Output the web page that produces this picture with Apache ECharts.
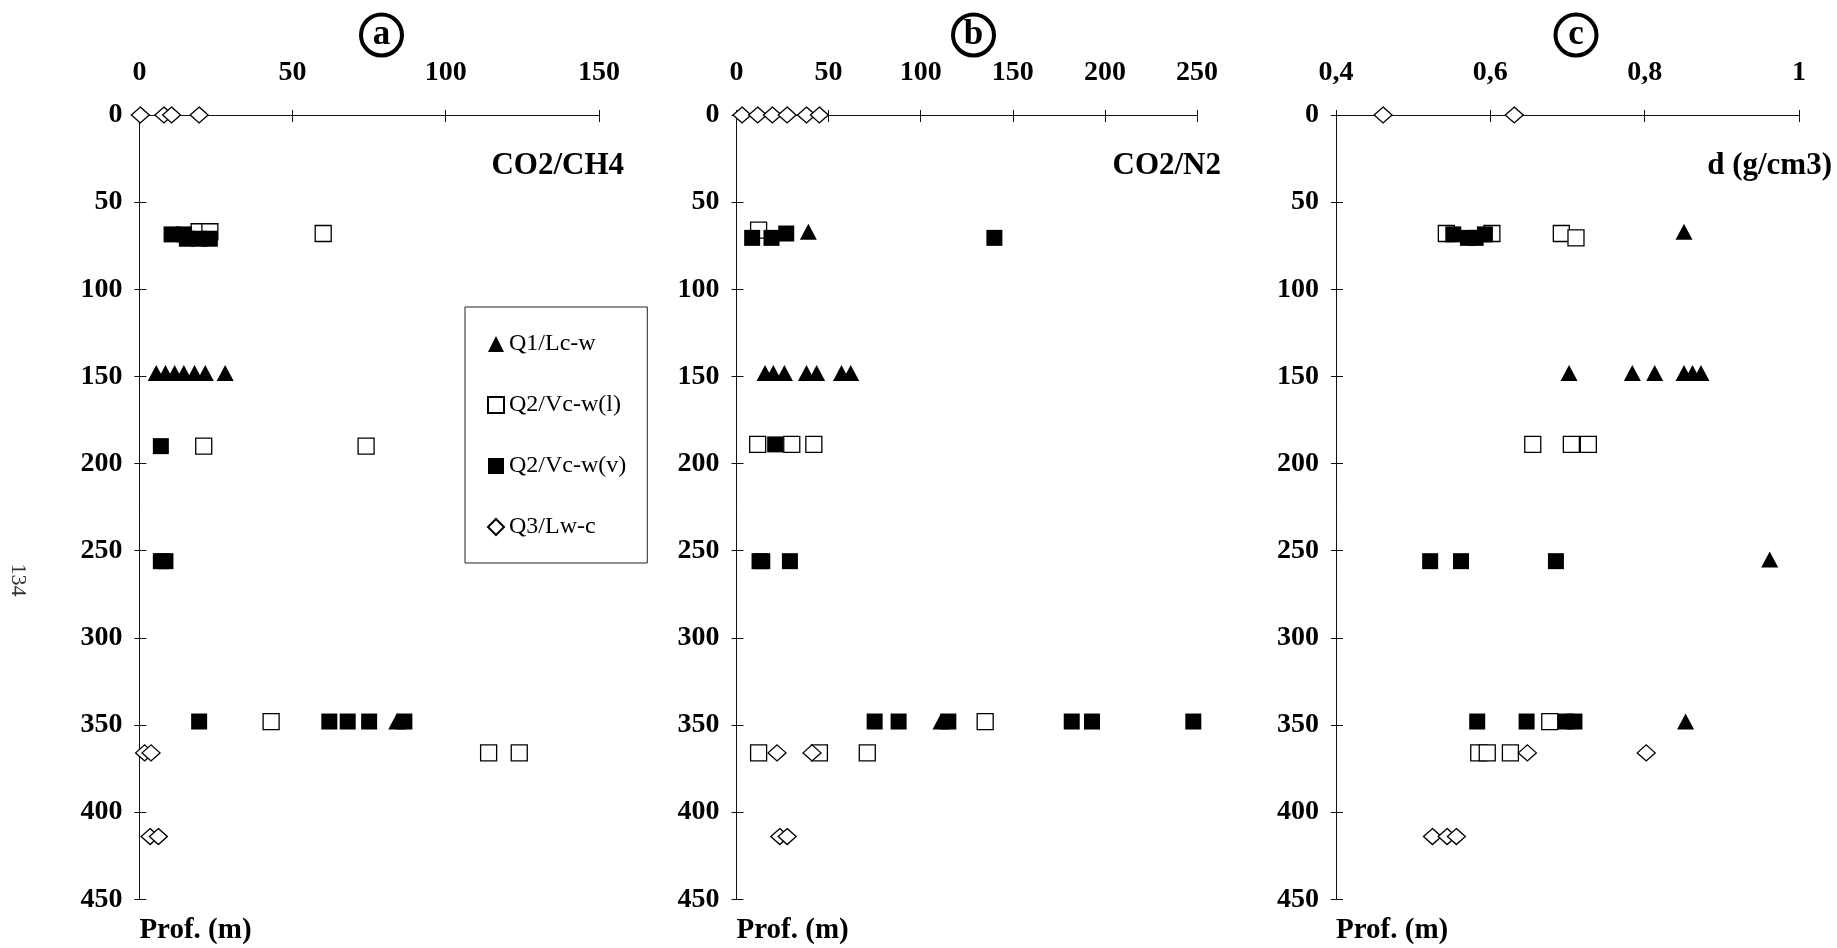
<!DOCTYPE html>
<html>
<head>
<meta charset="utf-8">
<script src="https://cdn.jsdelivr.net/npm/echarts@6/dist/echarts.min.js"></script>
<style>
html,body{margin:0;padding:0;background:#fff;}
#chart{width:1837px;height:948px;}
</style>
</head>
<body>
<div id="chart"></div>
<script>
// ---------- text / labels ----------
const seriesNames = ['Q1/Lc-w', 'Q2/Vc-w(l)', 'Q2/Vc-w(v)', 'Q3/Lw-c'];
const panelLetters = ['a', 'b', 'c'];
const panelTitles = ['CO2/CH4', 'CO2/N2', 'd (g/cm3)'];
const yAxisName = 'Prof. (m)';
const pageNumber = '134';
const depthRange = [0, 450, 50];            // min, max, step (tick labels 0..450)
const xRangeA = [0, 150, 50];               // tick labels 0, 50, 100, 150
const xRangeB = [0, 250, 50];               // tick labels 0 .. 250
const xRangeC = [0.4, 1, 0.2];              // tick labels 0,4  0,6  0,8  1

// ---------- data: [value, depth (m)] ----------
// panel a : CO2/CH4
const a_Q1  = [[5.5,148],[8.5,148],[11.5,148],[14.5,148],[18,148],[21.5,148],[28,148],[84,348]];
const a_Q2l = [[19.5,67],[23,67],[60,68],[21,190],[74,190],[43,348],[114,366],[124,366]];
const a_Q2v = [[10.5,68.5],[14.5,68.5],[15.5,71],[19.5,71],[23,71],[7,190],[7,256],[8.5,256],
               [19.5,348],[62,348],[68,348],[75,348],[86.5,348]];
const a_Q3  = [[0.3,0],[8,0],[10.5,0],[19.5,0],[1.7,366],[3.8,366],[3.5,414],[6.2,414]];

// panel b : CO2/N2
const b_Q1  = [[39,67],[15.5,148],[20,148],[26,148],[38,148],[43.5,148],[57,148],[62,148],[111,348]];
const b_Q2l = [[12,66],[11.5,189],[30,189],[42,189],[135,348],[12,366],[45,366],[71,366]];
const b_Q2v = [[8.5,70.5],[19,70.5],[27,68],[140,70.5],[21,189],[12.5,256],[14,256],[29,256],
               [75,348],[88,348],[115,348],[182,348],[193,348],[248,348]];
const b_Q3  = [[3,0],[11.5,0],[19.5,0],[27.5,0],[38,0],[45,0],[22,366],[41,366],[23.5,414],[27.5,414]];

// panel c : density d (g/cm3)
const c_Q1  = [[0.851,67],[0.702,148],[0.784,148],[0.813,148],[0.851,148],[0.862,148],[0.873,148],
               [0.962,255],[0.853,348]];
const c_Q2l = [[0.543,68],[0.602,68],[0.692,68],[0.711,70.5],[0.655,189],[0.705,189],[0.727,189],
               [0.677,348],[0.585,366],[0.596,366],[0.626,366]];
const c_Q2v = [[0.552,68.5],[0.571,70.5],[0.581,70.5],[0.593,68.5],[0.522,256],[0.562,256],[0.685,256],
               [0.583,348],[0.647,348],[0.698,348],[0.709,348]];
const c_Q3  = [[0.461,0],[0.631,0],[0.648,366],[0.802,366],[0.525,414],[0.544,414],[0.556,414]];

// ---------- layout / style ----------
const FONT = '"Liberation Serif", "Times New Roman", serif';
const panelData = [[a_Q1,a_Q2l,a_Q2v,a_Q3],[b_Q1,b_Q2l,b_Q2v,b_Q3],[c_Q1,c_Q2l,c_Q2v,c_Q3]];
const xRanges = [xRangeA, xRangeB, xRangeC];
const layout = [
  {left:139.4, width:459.5, titleRight:624,  circleX:381.5},
  {left:736.5, width:460.5, titleRight:1221, circleX:973.5},
  {left:1336,  width:463,   titleRight:1832, circleX:1576}
];
const gridTop = 115, gridHeight = 784.3;
const symbolStyles = [
  {symbol:'triangle', symbolSize:[17,16], itemStyle:{color:'#000', opacity:1}},
  {symbol:'rect', symbolSize:16, itemStyle:{color:'#fff', borderColor:'#000', borderWidth:1.3, opacity:1}},
  {symbol:'rect', symbolSize:16, itemStyle:{color:'#000', opacity:1}},
  {symbol:'diamond', symbolSize:[18,16], itemStyle:{color:'#fff', borderColor:'#000', borderWidth:1.3, opacity:1}}
];
const drawOrder = [1, 2, 0, 3];
const lineCol = '#111';

function fmtX(v) {
  const r = Math.round(v * 10) / 10;
  return String(r).replace('.', ',');
}

const grids = [], xAxes = [], yAxes = [], series = [], graphics = [];

layout.forEach((L, p) => {
  grids.push({left:L.left, top:gridTop, width:L.width, height:gridHeight, outerBoundsMode:'none'});
  const [xmin, xmax, xstep] = xRanges[p];
  const baseX = {
    type:'value', gridIndex:p, position:'top', min:xmin, max:xmax, interval:xstep,
    splitLine:{show:false}
  };
  xAxes.push(Object.assign({}, baseX, {
    axisLine:{show:true, onZero:false, lineStyle:{color:lineCol, width:1}},
    axisTick:{show:true, length:5, lineStyle:{color:lineCol, width:1}},
    axisLabel:{show:true, margin:28, fontSize:28, fontWeight:'bold', fontFamily:FONT, color:'#000',
               formatter: fmtX}
  }));
  xAxes.push(Object.assign({}, baseX, {
    axisLine:{show:false, onZero:false},
    axisTick:{show:true, inside:true, length:7, lineStyle:{color:lineCol, width:1}},
    axisLabel:{show:false}
  }));
  const baseY = {
    type:'value', gridIndex:p, position:'left', inverse:true,
    min:depthRange[0], max:depthRange[1], interval:depthRange[2], splitLine:{show:false}
  };
  yAxes.push(Object.assign({}, baseY, {
    axisLine:{show:true, onZero:false, lineStyle:{color:lineCol, width:1}},
    axisTick:{show:true, length:5, lineStyle:{color:lineCol, width:1}},
    axisLabel:{show:true, margin:17, fontSize:28, fontWeight:'bold', fontFamily:FONT, color:'#000'},
    name: yAxisName, nameLocation:'end', nameGap:31,
    nameTextStyle:{fontSize:29, fontWeight:'bold', fontFamily:FONT, color:'#000',
                   align:'left', verticalAlign:'middle'}
  }));
  yAxes.push(Object.assign({}, baseY, {
    axisLine:{show:false, onZero:false},
    axisTick:{show:true, inside:true, length:7, lineStyle:{color:lineCol, width:1}},
    axisLabel:{show:false}
  }));

  drawOrder.forEach(s => {
    series.push(Object.assign({
      type:'scatter', name:seriesNames[s], xAxisIndex:2*p, yAxisIndex:2*p,
      data: panelData[p][s], clip:false, silent:true
    }, JSON.parse(JSON.stringify(symbolStyles[s]))));
  });

  graphics.push({
    type:'text', x:L.titleRight, y:166,
    style:{text:panelTitles[p], font:'bold 31px ' + FONT, fill:'#000',
           align:'right', verticalAlign:'middle', textAlign:'right', textVerticalAlign:'middle'}
  });
  graphics.push({
    type:'circle', shape:{cx:L.circleX, cy:35, r:20.5},
    style:{fill:'#fff', stroke:'#000', lineWidth:4}
  });
  graphics.push({
    type:'text', x:L.circleX, y:35,
    style:{text:panelLetters[p], font:'bold 35px ' + FONT, fill:'#000',
           align:'center', verticalAlign:'middle', textAlign:'center', textVerticalAlign:'middle'}
  });
});

graphics.push({
  type:'text', x:18, y:580, rotation:-Math.PI/2,
  style:{text:pageNumber, font:'22px ' + FONT, fill:'#333',
         align:'center', verticalAlign:'middle', textAlign:'center', textVerticalAlign:'middle'}
});

const option = {
  animation:false,
  backgroundColor:'#fff',
  grid: grids,
  xAxis: xAxes,
  yAxis: yAxes,
  legend: {
    left:465, top:307, orient:'vertical', data:seriesNames, selectedMode:false,
    itemWidth:16, itemHeight:16, itemGap:37, itemTextGap:12,
    padding:[25,21,24,22], borderColor:'#222', borderWidth:1, backgroundColor:'#fff',
    textStyle:{fontFamily:FONT, fontSize:24, color:'#000', lineHeight:24}
  },
  series: series,
  graphic: graphics
};

const chart = echarts.init(document.getElementById('chart'), null, {renderer:'canvas'});
chart.setOption(option);
</script>
</body>
</html>
